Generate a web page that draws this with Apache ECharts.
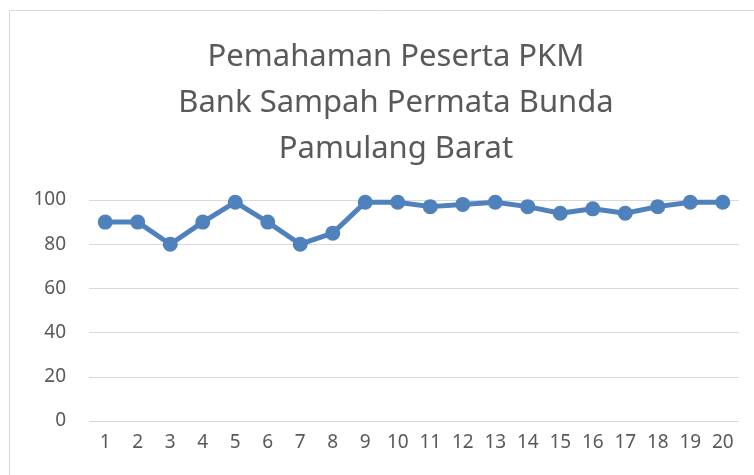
<!DOCTYPE html>
<html>
<head>
<meta charset="utf-8">
<script src="https://cdn.jsdelivr.net/npm/echarts@6/dist/echarts.min.js"></script>
<style>
  html, body { margin: 0; padding: 0; background: #fff; }
  #app { width: 754px; height: 475px; }
</style>
</head>
<body>
<div id="app"></div>
<script>
// data
var categories = ['1', '2', '3', '4', '5', '6', '7', '8', '9', '10',
  '11', '12', '13', '14', '15', '16', '17', '18', '19', '20'];
var scores = [90, 90, 80, 90, 99, 90, 80, 85, 99, 99,
  97, 98, 99, 97, 94, 96, 94, 97, 99, 99];
var titleLines = ['Pemahaman Peserta PKM', 'Bank Sampah Permata Bunda', 'Pamulang Barat'];

var myEchart = echarts.init(document.getElementById('app'));
myEchart.setOption({
    animation: false,
    textStyle: { fontFamily: 'Noto Sans' },
    title: {
        text: titleLines.join('\n'),
        left: 391,
        top: 29,
        textAlign: 'center',
        textStyle: {
            color: '#595959',
            fontSize: 31,
            fontWeight: 'normal',
            lineHeight: 46,
            fontFamily: 'Noto Sans'
        }
    },
    // outer chart border
    graphic: [{
        type: 'rect',
        shape: { x: 9.5, y: 10.5, width: 800, height: 500 },
        style: { fill: 'none', stroke: '#d9d9d9', lineWidth: 1 }
    }],
    grid: { left: 89, right: 15, top: 200, bottom: 54 },
    xAxis: {
        type: 'category',
        data: categories,
        boundaryGap: true,
        axisLine: { show: false },
        axisTick: { show: false },
        axisLabel: { color: '#595959', fontSize: 19, margin: 12 }
    },
    yAxis: {
        type: 'value',
        min: 0,
        max: 100,
        interval: 20,
        axisLine: { show: false },
        axisTick: { show: false },
        axisLabel: { color: '#595959', fontSize: 19, margin: 23 },
        splitLine: { lineStyle: { color: '#d9d9d9', width: 1 } }
    },
    series: [{
        type: 'line',
        data: scores,
        symbol: 'circle',
        symbolSize: 15,
        lineStyle: { color: '#4f81bd', width: 5 },
        itemStyle: { color: '#4f81bd' }
    }]
});
</script>
</body>
</html>
